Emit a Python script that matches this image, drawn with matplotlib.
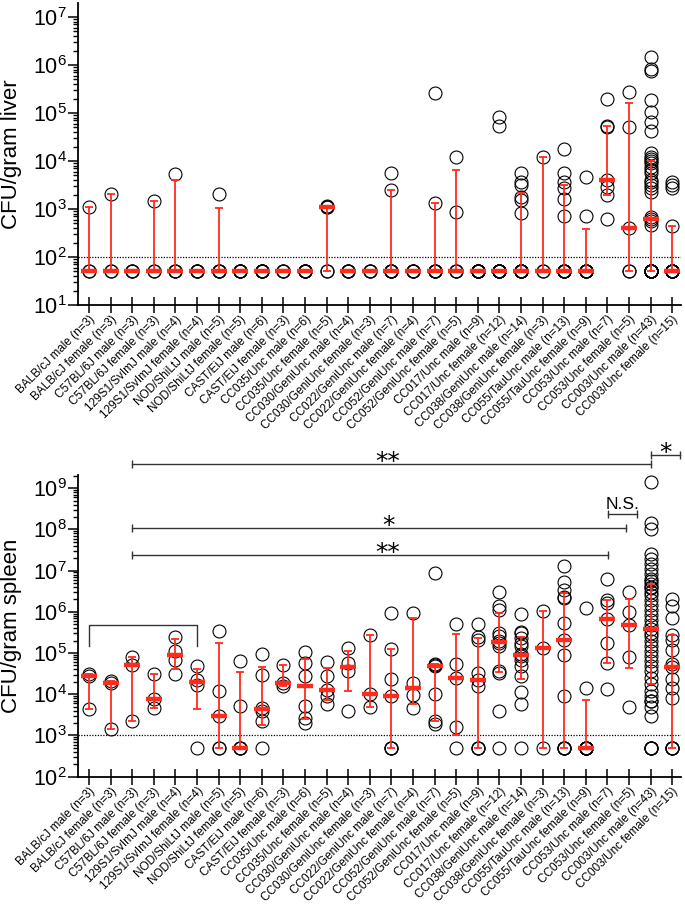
import numpy as np
import matplotlib
matplotlib.use('Agg')
import matplotlib.pyplot as plt
from matplotlib.ticker import LogLocator, LogFormatterSciNotation, NullFormatter
from matplotlib.transforms import ScaledTranslation

plt.rcParams['font.family'] = ['Liberation Sans', 'DejaVu Sans']
plt.rcParams['mathtext.fontset'] = 'custom'
plt.rcParams['mathtext.rm'] = 'Liberation Sans'
plt.rcParams['mathtext.it'] = 'Liberation Sans:italic'
plt.rcParams['mathtext.bf'] = 'Liberation Sans:bold'
plt.rcParams['mathtext.default'] = 'regular'

# ---------------- data ----------------
groups = [
    "BALB/cJ male (n=3)", "BALB/cJ female (n=3)", "C57BL/6J male (n=3)", "C57BL/6J female (n=3)",
    "129S1/SvImJ male (n=4)", "129S1/SvImJ female (n=4)", "NOD/ShiLtJ male (n=5)", "NOD/ShiLtJ female (n=5)",
    "CAST/EiJ male (n=6)", "CAST/EiJ female (n=3)", "CC035/Unc male (n=6)", "CC035/Unc female (n=5)",
    "CC030/GeniUnc male (n=4)", "CC030/GeniUnc female (n=3)", "CC022/GeniUnc male (n=7)",
    "CC022/GeniUnc female (n=4)", "CC052/GeniUnc male (n=7)", "CC052/GeniUnc female (n=5)",
    "CC017/Unc male (n=9)", "CC017/Unc female (n=12)", "CC038/GeniUnc male (n=14)",
    "CC038/GeniUnc female (n=3)", "CC055/TauUnc male (n=13)", "CC055/TauUnc female (n=9)",
    "CC053/Unc male (n=7)", "CC053/Unc female (n=5)", "CC003/Unc male (n=43)", "CC003/Unc female (n=15)",
]

liver_lod = 100
liver = [
    [50, 50, 1120],
    [50, 50, 2050],
    [50, 50, 50],
    [50, 50, 1490],
    [50, 50, 50, 5350],
    [50, 50, 50, 50],
    [50, 50, 50, 50, 2050],
    [50, 50, 50, 50, 50],
    [50, 50, 50, 50, 50, 50],
    [50, 50, 50],
    [50, 50, 50, 50, 50, 50],
    [50, 50, 1100, 1100, 1150],
    [50, 50, 50, 50],
    [50, 50, 50],
    [50, 50, 50, 50, 50, 2490, 5500],
    [50, 50, 50, 50],
    [50, 50, 50, 50, 50, 1350, 265000],
    [50, 50, 50, 850, 12300],
    [50, 50, 50, 50, 50, 50, 50, 50, 50],
    [50, 50, 50, 50, 50, 50, 50, 50, 50, 50, 53500, 81000],
    [50, 50, 50, 50, 50, 50, 50, 50, 810, 1540, 1800, 3160, 3700, 5500],
    [50, 50, 12300],
    [50, 50, 50, 50, 50, 50, 50, 715, 1590, 2700, 3700, 5500, 17800],
    [50, 50, 50, 50, 50, 50, 50, 715, 4580],
    [620, 1960, 2830, 4100, 51700, 53000, 200000],
    [50, 50, 400, 51700, 273000],
    [50, 50, 50, 50, 50, 50, 50, 50, 50, 50, 50, 50, 50, 50, 50, 50, 50, 50, 50,
     464, 560, 620, 690, 2300, 2700, 3160, 3600, 4000, 5500, 6500, 7600, 8900, 10000,
     11000, 12300, 14400, 42000, 66000, 107000, 186000, 750000, 810000, 1480000],
    [50, 50, 50, 50, 50, 50, 50, 50, 50, 50, 50, 450, 2700, 3160, 3700],
]

spleen_lod = 1000
spleen = [
    [4430, 28200, 31700],
    [1450, 18800, 20600],
    [2220, 52700, 78000],
    [4700, 7700, 31700],
    [31700, 69000, 110000, 251000],
    [500, 16500, 22500, 47500],
    [500, 500, 3050, 11800, 335000],
    [500, 500, 500, 5100, 65500],
    [500, 2220, 3900, 4700, 30000, 95000],
    [16300, 18800, 50000],
    [2040, 2680, 5100, 27500, 58000, 107000],
    [5900, 8900, 13000, 27000, 62000],
    [4000, 36000, 58000, 130000],
    [4900, 10000, 270000],
    [500, 500, 500, 9300, 23600, 125000, 940000],
    [4700, 9500, 19000, 940000],
    [1900, 2260, 10000, 48000, 52000, 54000, 8.7e6],
    [500, 1580, 25000, 55000, 515000],
    [500, 500, 500, 15800, 22700, 33000, 213000, 250000, 520000],
    [500, 4000, 33000, 36000, 148000, 180000, 192000, 256000, 310000, 1.13e6, 1.35e6, 3.1e6],
    [500, 5800, 11200, 27500, 48000, 69000, 85000, 97000, 148000, 180000, 235000, 300000, 320000, 890000],
    [500, 129000, 1.07e6],
    [500, 500, 500, 500, 8900, 91000, 204000, 540000, 2.2e6, 2.3e6, 3.3e6, 5.2e6, 1.3e7],
    [500, 500, 500, 500, 500, 500, 500, 13800, 1.23e6],
    [13200, 56000, 178000, 670000, 1.6e6, 1.95e6, 6.2e6],
    [5000, 82000, 480000, 1.0e6, 3.1e6],
    [500, 500, 500, 500, 2950, 5000, 6800, 6800, 9000, 12000, 17800,
     25000, 36000, 48000, 63000, 84000, 111000, 148000, 195000, 258000, 310000, 380000,
     480000, 640000, 840000, 1.12e6, 1.5e6, 1.96e6, 2.6e6, 3.1e6, 3.7e6, 4.1e6, 4.8e6,
     5.5e6, 6.3e6, 8.3e6, 1.1e7, 1.45e7, 1.9e7, 2.5e7, 1.0e8, 1.45e8, 1.45e9],
    [500, 500, 500, 500, 8300, 14500, 23000, 46000, 55000, 121000, 213000, 270000, 710000, 1.35e6, 2.1e6],
]

# significance comparisons: (from group index, to group index, level, label)
comparisons = [
    (2, 26.0, 3.85e9, "**"),
    (26.0, 27.36, 6.3e9, "*"),
    (2, 24.86, 1.05e8, "*"),
    (24.03, 25.36, 2.37e8, "N.S."),
    (2, 24.03, 2.4e7, "**"),
]
bracket_groups = (0, 5, 4.7e5, 1.45e5)

RED = '#FF2B1C'
W, H = 685, 908

fig = plt.figure(figsize=(W / 100, H / 100), dpi=100)
left_px, right_px = 77.7, 681.0
ax1 = fig.add_axes([left_px / W, 1 - 305 / H, (right_px - left_px) / W, (305 - 3.3) / H])
ax2 = fig.add_axes([left_px / W, 1 - 776.7 / H, (right_px - left_px) / W, (776.7 - 474.7) / H])


def draw_panel(ax, values, lod, ylim, ylabel):
    ax.set_yscale('log')
    for i, vals in enumerate(values):
        v = np.asarray(vals, float)
        ax.plot(np.full(len(v), i), v, 'o', ms=9.3, mfc='none', mec='black', mew=0.8,
                zorder=2, clip_on=False)
        q1, med, q3 = np.percentile(v, [25, 50, 75], method='weibull')
        ax.errorbar([i], [med], yerr=[[med - q1], [q3 - med]], fmt='none', ecolor=RED,
                    elinewidth=1.3, capsize=3, capthick=1.3, zorder=3)
        ax.hlines(med, i - 0.37, i + 0.37, colors=RED, lw=3.2, zorder=4)
    ax.axhline(lod, ls=(0, (1, 1.2)), color='black', lw=0.9, zorder=1)
    ax.set_xlim(-0.523, 27.41)
    ax.set_ylim(*ylim)
    ax.set_xticks(range(len(groups)))
    ax.set_xticklabels(groups, rotation=45, ha='right', va='top', rotation_mode='anchor',
                       fontsize=8.5)
    shift = ScaledTranslation(2.5 / 72, 0, fig.dpi_scale_trans)
    for lab in ax.get_xticklabels():
        lab.set_transform(lab.get_transform() + shift)
    ax.yaxis.set_major_locator(LogLocator(base=10, numticks=20))
    ax.yaxis.set_minor_locator(LogLocator(base=10, subs=np.arange(2, 10), numticks=20))
    ax.yaxis.set_major_formatter(LogFormatterSciNotation())
    ax.yaxis.set_minor_formatter(NullFormatter())
    ax.tick_params(axis='x', direction='inout', length=11, width=1.1, pad=0.5)
    ax.tick_params(axis='y', which='major', direction='out', length=7, width=1.1,
                   labelsize=15.5, pad=1)
    ax.tick_params(axis='y', which='minor', direction='out', length=3.5, width=1.0)
    for s in ('top', 'right'):
        ax.spines[s].set_visible(False)
    for s in ('left', 'bottom'):
        ax.spines[s].set_linewidth(1.3)
    ax.set_ylabel(ylabel, fontsize=16)
    ax.yaxis.set_label_coords(-0.092, 0.5)


draw_panel(ax1, liver, liver_lod, (10, 1.93e7), "CFU/gram liver")
draw_panel(ax2, spleen, spleen_lod, (100, 2.12e9), "CFU/gram spleen")

# significance brackets
LC = '#333333'
for x0, x1, y, lab in comparisons:
    ax2.plot([x0, x1], [y, y], color=LC, lw=1.0, clip_on=False, zorder=5)
    ax2.plot([x0, x1], [y, y], ls='none', marker='|', ms=6, mew=1.0, color=LC,
             clip_on=False, zorder=5)
    if lab.startswith('*'):
        xc = (x0 + x1) / 2 if x1 - x0 < 3 else 13.85
        ax2.annotate(lab, (xc, y), xytext=(0, 1.5), textcoords='offset points',
                     ha='center', va='center', fontsize=18, family='DejaVu Sans',
                     annotation_clip=False)
    else:
        ax2.annotate(lab, ((x0 + x1) / 2, y), xytext=(0, 1.5),
                     textcoords='offset points', ha='center', va='bottom',
                     fontsize=12.5, annotation_clip=False)

bx0, bx1, by_top, by_bot = bracket_groups
ax2.plot([bx0, bx0, bx1, bx1], [by_bot, by_top, by_top, by_bot], color=LC, lw=1.0,
         clip_on=False, zorder=5)

fig.savefig('out.png', dpi=100)
